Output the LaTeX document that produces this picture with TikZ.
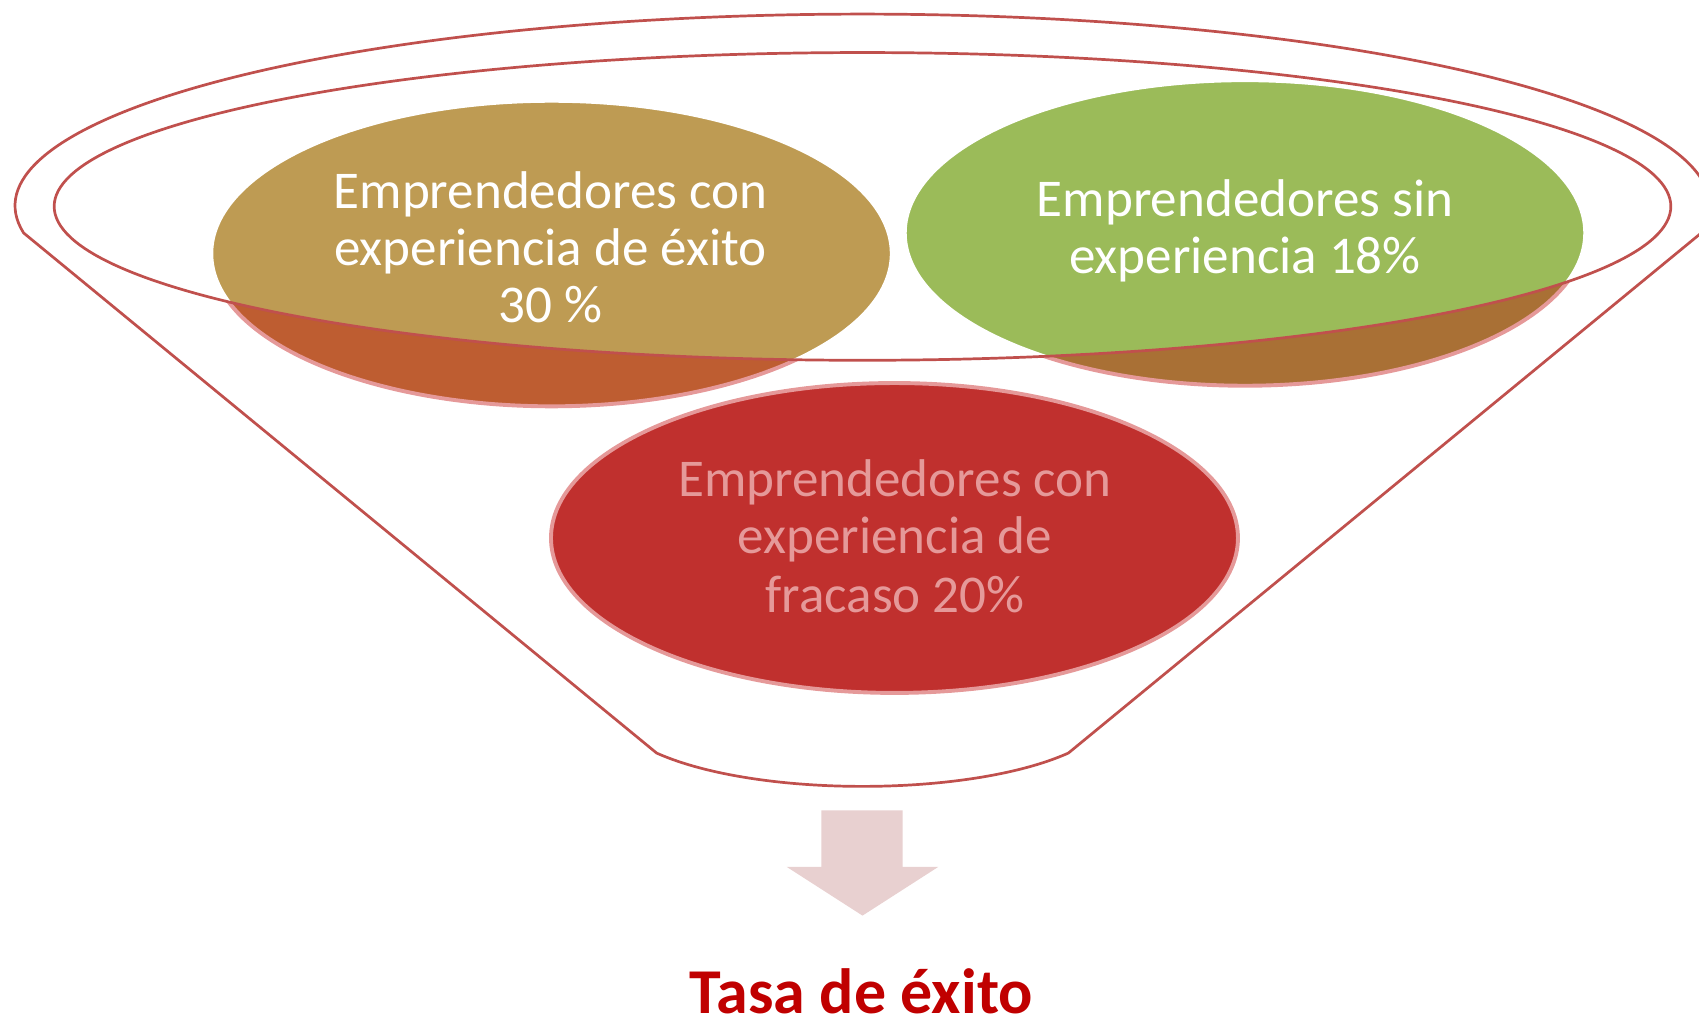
\documentclass[tikz,border=0pt]{standalone}
\usepackage{fontspec}
\setmainfont{Carlito}
\usetikzlibrary{shapes.geometric}
\definecolor{goldfill}{RGB}{190,155,83}
\definecolor{greenfill}{RGB}{155,187,89}
\definecolor{accred}{RGB}{192,80,77}
\definecolor{deepred}{RGB}{192,0,0}
\definecolor{arrowpink}{RGB}{232,208,208}
\begin{document}
\begin{tikzpicture}[x=0.5pt,y=-0.5pt,
  bubble/.style={ellipse, draw=white, line width=1.8pt, minimum width=314pt, minimum height=141pt, inner sep=0pt},
  rim/.style={draw=accred, line width=1.25pt, line join=round},
  bubbletext/.style={text=white, font=\fontsize{24.5pt}{26pt}\selectfont, anchor=base, inner sep=0pt},
  titletext/.style={text=deepred, font=\bfseries\fontsize{29.5pt}{31pt}\selectfont, anchor=base, inner sep=0pt}
]
\useasboundingbox (0,0) rectangle (1568,946);
\clip (0,0) rectangle (1568,946);

% outer funnel outline
\draw[rim] (21.8,215) arc[start angle=188.12, end angle=-8.12, x radius=391pt, y radius=88.5pt]
  -- (986,695) .. controls (894,736) and (698,736) .. (606,695) -- cycle;

% bubbles
\node[bubble, fill=goldfill] (gold) at (509,234) {};
\node[bubble, fill=greenfill] (green) at (1149,215) {};
\node[bubble, fill=accred, minimum width=317pt, minimum height=143pt] (red) at (825.5,496.5) {};

% bubble texts
\node[bubbletext] (goldA) at (508,192) {Emprendedores con};
\node[bubbletext] (goldB) at (508,245) {experiencia de éxito};
\node[bubbletext] (goldC) at (508,298) {30 \%};
\node[bubbletext] (greenA) at (1149,200) {Emprendedores sin};
\node[bubbletext] (greenB) at (1149,252) {experiencia 18\%};
\node[bubbletext] (redA) at (826,458) {Emprendedores con};
\node[bubbletext] (redB) at (826,511) {experiencia de};
\node[bubbletext] (redC) at (826,565) {fracaso 20\%};

% tint of the parts below the rim
\begin{scope}[even odd rule]
  \clip (-10,-10) rectangle (1600,960) (796,190.5) ellipse [x radius=373pt, y radius=71pt];
  \fill[deepred, opacity=0.4] (gold.center) ellipse [x radius=158pt, y radius=71.4pt]
    (green.center) ellipse [x radius=158pt, y radius=71.4pt]
    (red.center) ellipse [x radius=159.4pt, y radius=72.4pt];
\end{scope}

% inner rim
\draw[rim] (796,190.5) ellipse [x radius=373pt, y radius=71pt];

% arrow
\fill[arrowpink] (758,748) -- (833,748) -- (833,800) -- (866,800) -- (796,845) -- (726,800) -- (758,800) -- cycle;

% result
\node[titletext] (title) at (795,935) {Tasa de éxito};
\end{tikzpicture}
\end{document}
